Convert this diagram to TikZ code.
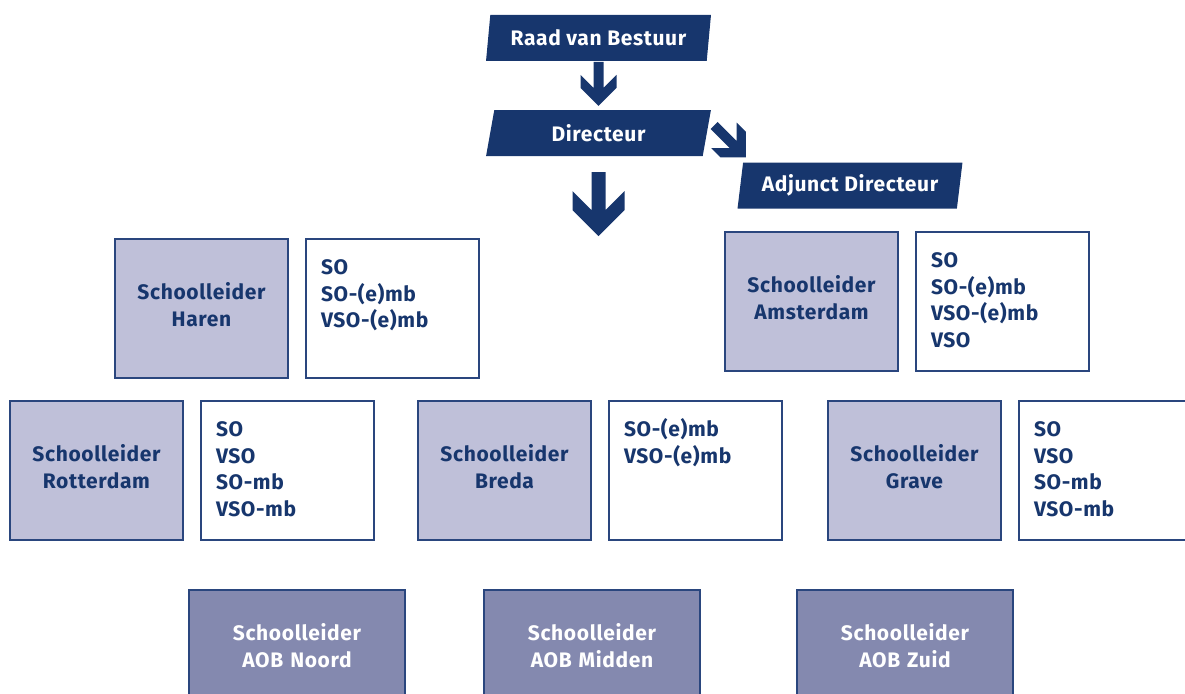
\documentclass[tikz,border=0pt]{standalone}
\usepackage{fontspec}
\setmainfont{Fira Sans}[LetterSpace=3]
\usetikzlibrary{shapes.geometric,calc}

\definecolor{navy}{HTML}{17366D}
\definecolor{lavender}{HTML}{BFC0D9}
\definecolor{aobblue}{HTML}{8489AF}
\definecolor{rim}{HTML}{2A467E}

% block arrow, tip at the origin: length/half shaft/half head
\tikzset{
  pics/chevron/.style args={#1/#2/#3}{code={
    \fill[navy] (0,0) -- (-#3,-#3) -- (-#3,{-2*#3+#2}) -- (-#2,-#3) -- (-#2,-#1)
      -- (#2,-#1) -- (#2,-#3) -- (#3,{-2*#3+#2}) -- (#3,-#3) -- cycle;
  }}
}

\begin{document}
\begin{tikzpicture}[x=1pt,y=-1pt,font=\bfseries\fontsize{21}{26.5}\selectfont,
  top node/.style={trapezium,trapezium left angle=78,trapezium right angle=102,trapezium stretches=true,fill=navy,text=white,minimum width=225pt,minimum height=46pt,inner sep=0pt},
  leader node/.style={rectangle,draw=rim,line width=1.5pt,fill=lavender,text=navy,align=center,text width=173pt,inner sep=0pt,text height=60.5pt,text depth=78.5pt},
  list node/.style={rectangle,draw=rim,line width=1.2pt,fill=white,text=navy,align=left,text width=143pt,inner xsep=15pt,inner ysep=0pt,text height=35.5pt,text depth=103.5pt},
  aob node/.style={leader node,fill=aobblue,text=white,text width=216pt,text height=50.5pt,text depth=61.5pt}]
  \useasboundingbox (0,0) rectangle (1185,693);
  \clip (0,0) rectangle (1185,693);

  % top of the organisation
  \node[top node] (rvb) at (598.5,38) {Raad van Bestuur};
  \node[top node] (dir) at (598.5,133) {Directeur};
  \node[top node] (adj) at (850,185.5) {Adjunct Directeur};

  \pic at ($(dir.north)+(0,-4)$) {chevron={44/5/18}};
  \pic[rotate=45] at ($(adj.top left corner)+(3,-5)$) {chevron={45/5/18}};
  \pic at ($(dir.south)+(0,80)$) {chevron={64/7/26}};

  % schoolleiders
  \node[leader node] (haren) at (201.5,308.5) {Schoolleider\\Haren};
  \node[list node] (harenl) at (392.5,308.5) {SO\\SO-(e)mb\\VSO-(e)mb};
  \node[leader node] (adam) at (811.5,301.5) {Schoolleider\\Amsterdam};
  \node[list node] (adaml) at (1002.5,301.5) {SO\\SO-(e)mb\\VSO-(e)mb\\VSO};

  \node[leader node] (rdam) at (96.5,470.5) {Schoolleider\\Rotterdam};
  \node[list node] (rdaml) at (287.5,470.5) {SO\\VSO\\SO-mb\\VSO-mb};
  \node[leader node] (breda) at (504.5,470.5) {Schoolleider\\Breda};
  \node[list node] (bredal) at (695.5,470.5) {SO-(e)mb\\VSO-(e)mb};
  \node[leader node] (grave) at (914.5,470.5) {Schoolleider\\Grave};
  \node[list node] (gravel) at (1105.5,470.5) {SO\\VSO\\SO-mb\\VSO-mb};

  % AOB
  \node[aob node] (noord) at (297,646) {Schoolleider\\AOB Noord};
  \node[aob node] (midden) at (592,646) {Schoolleider\\AOB Midden};
  \node[aob node] (zuid) at (905,646) {Schoolleider\\AOB Zuid};
\end{tikzpicture}
\end{document}
